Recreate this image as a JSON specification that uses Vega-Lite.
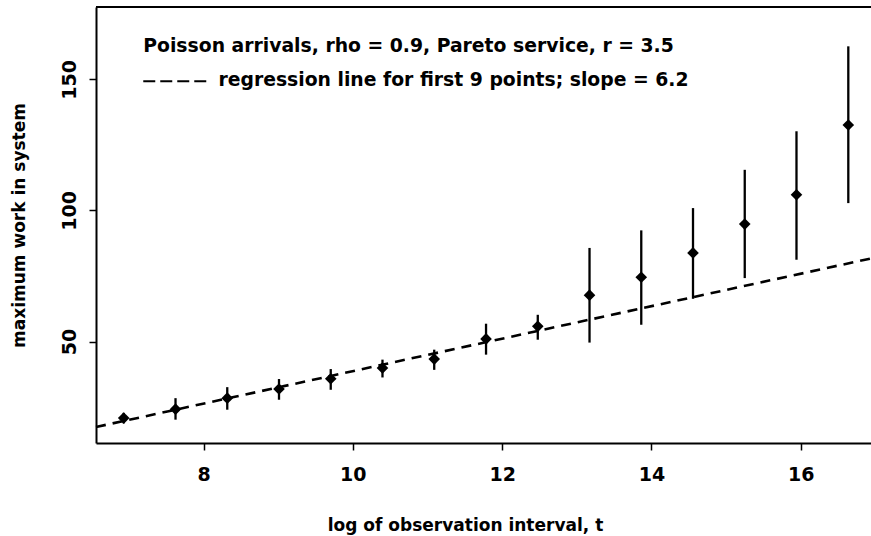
{
  "$schema": "https://vega.github.io/schema/vega-lite/v6.json",
  "width": 775,
  "height": 436,
  "autosize": {"type": "none"},
  "padding": {"left": 96, "top": 7, "right": 0, "bottom": 93},
  "background": "white",
  "config": {
    "view": {"stroke": null},
    "font": "DejaVu Sans",
    "axis": {
      "domainColor": "black", "domainWidth": 2,
      "tickColor": "black", "tickWidth": 1.5, "tickSize": 7,
      "labelColor": "black", "labelFont": "DejaVu Sans", "labelFontWeight": "bold", "labelFontSize": 19,
      "titleColor": "black", "titleFont": "DejaVu Sans", "titleFontWeight": "bold", "titleFontSize": 17,
      "grid": false
    }
  },
  "datasets": {
    "pts": [
      {"x": 6.931, "y": 20.8, "lo": 18.8, "hi": 22.8},
      {"x": 7.625, "y": 24.2, "lo": 20.2, "hi": 28.4},
      {"x": 8.318, "y": 28.4, "lo": 24.0, "hi": 32.6},
      {"x": 9.011, "y": 31.9, "lo": 27.8, "hi": 35.7},
      {"x": 9.704, "y": 35.8, "lo": 31.6, "hi": 39.5},
      {"x": 10.397, "y": 39.9, "lo": 36.3, "hi": 43.1},
      {"x": 11.090, "y": 43.3, "lo": 39.2, "hi": 46.9},
      {"x": 11.784, "y": 51.0, "lo": 45.0, "hi": 56.8},
      {"x": 12.477, "y": 55.8, "lo": 50.7, "hi": 60.2},
      {"x": 13.170, "y": 67.7, "lo": 49.6, "hi": 85.7},
      {"x": 13.863, "y": 74.5, "lo": 56.4, "hi": 92.4},
      {"x": 14.556, "y": 83.8, "lo": 66.3, "hi": 100.9},
      {"x": 15.249, "y": 94.8, "lo": 74.2, "hi": 115.5},
      {"x": 15.942, "y": 106.0, "lo": 81.2, "hi": 130.2},
      {"x": 16.636, "y": 132.6, "lo": 102.8, "hi": 162.6}
    ],
    "reg": [
      {"x": 6.56, "y": 17.4},
      {"x": 16.94, "y": 81.7}
    ],
    "legtext": [
      {"x": 7.193, "y": 160.6, "label": "Poisson arrivals, rho = 0.9, Pareto service, r = 3.5"},
      {"x": 8.20, "y": 147.4, "label": "regression line for first 9 points; slope = 6.2"}
    ],
    "legdash": [
      {"x": 7.193, "x2": 8.063, "y": 149.3}
    ],
    "frame": [
      {"y": 177.6}
    ]
  },
  "layer": [
    {
      "data": {"name": "pts"},
      "mark": {"type": "rule", "color": "black", "strokeWidth": 2.3},
      "encoding": {
        "x": {
          "field": "x", "type": "quantitative",
          "scale": {"domain": [6.56, 16.94], "nice": false, "zero": false},
          "axis": {
            "values": [8, 10, 12, 14, 16],
            "format": "d",
            "title": "log of observation interval, t",
            "labelPadding": 15,
            "titleAnchor": "start", "titleAlign": "center", "titleBaseline": "alphabetic",
            "titleX": 369, "titleY": 87
          }
        },
        "y": {
          "field": "lo", "type": "quantitative",
          "scale": {"domain": [11.3, 177.6], "nice": false, "zero": false},
          "axis": {
            "values": [50, 100, 150],
            "format": "d",
            "title": "maximum work in system",
            "labelAngle": -90, "labelAlign": "center", "labelBaseline": "bottom", "labelPadding": 10,
            "titleAngle": -90, "titleAlign": "center", "titleBaseline": "middle",
            "titleX": -77, "titleY": 218
          }
        },
        "y2": {"field": "hi"}
      }
    },
    {
      "data": {"name": "pts"},
      "mark": {"type": "point", "shape": "diamond", "filled": true, "color": "black", "opacity": 1, "size": 135},
      "encoding": {
        "x": {"field": "x", "type": "quantitative"},
        "y": {"field": "y", "type": "quantitative"}
      }
    },
    {
      "data": {"name": "reg"},
      "mark": {"type": "line", "color": "black", "strokeWidth": 2.6, "strokeDash": [10, 7]},
      "encoding": {
        "x": {"field": "x", "type": "quantitative"},
        "y": {"field": "y", "type": "quantitative"}
      }
    },
    {
      "data": {"name": "legdash"},
      "mark": {"type": "rule", "color": "black", "strokeWidth": 2, "strokeDash": [12, 5]},
      "encoding": {
        "x": {"field": "x", "type": "quantitative"},
        "x2": {"field": "x2"},
        "y": {"field": "y", "type": "quantitative"}
      }
    },
    {
      "data": {"name": "legtext"},
      "mark": {"type": "text", "align": "left", "baseline": "alphabetic", "font": "DejaVu Sans", "fontWeight": "bold", "fontSize": 18.8, "color": "black"},
      "encoding": {
        "x": {"field": "x", "type": "quantitative"},
        "y": {"field": "y", "type": "quantitative"},
        "text": {"field": "label"}
      }
    },
    {
      "data": {"name": "frame"},
      "mark": {"type": "rule", "color": "black", "strokeWidth": 2},
      "encoding": {
        "y": {"field": "y", "type": "quantitative"}
      }
    }
  ]
}
